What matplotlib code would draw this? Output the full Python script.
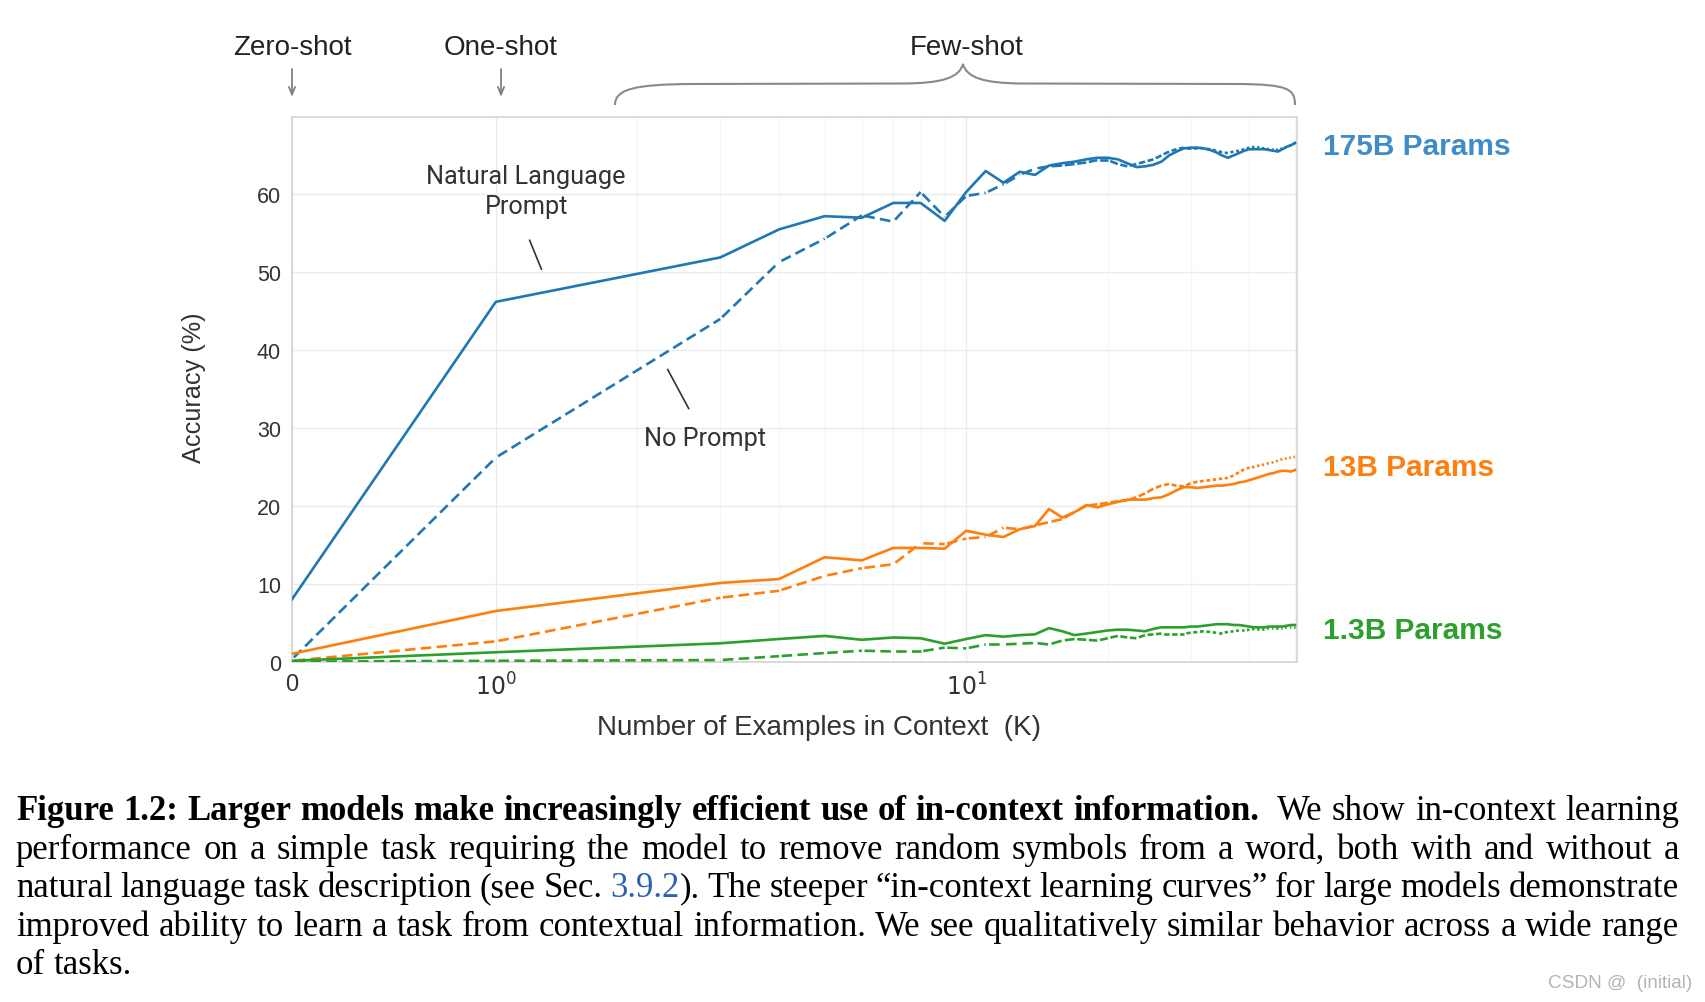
import numpy as np
import matplotlib
matplotlib.use("Agg")
import matplotlib.pyplot as plt
from matplotlib.collections import LineCollection
from matplotlib.path import Path
from matplotlib.patches import PathPatch
from matplotlib.ticker import FixedLocator

# number of in-context examples K
k_shots = [0, 1, 3, 4, 5, 6, 7, 8, 9, 10,
           11, 12, 13, 14, 15, 16, 17, 18, 19, 20,
           21, 22, 23, 24, 25, 26, 27, 28, 29, 30,
           31, 32, 33, 34, 35, 36, 37, 38, 39, 40,
           41, 42, 43, 44, 45, 46, 47, 48, 49, 50]

# accuracy (%)
acc_175b_prompt = [8.0, 46.2, 51.9, 55.5, 57.2, 57.0, 58.9, 58.9, 56.6, 60.3,
                   63.0, 61.5, 62.9, 62.5, 63.7, 64.0, 64.2, 64.5, 64.7, 64.7,
                   64.5, 64.0, 63.5, 63.6, 63.8, 64.2, 65.0, 65.5, 65.9, 66.0,
                   66.0, 65.9, 65.7, 65.4, 65.0, 64.7, 65.0, 65.3, 65.6, 65.8,
                   65.8, 65.8, 65.8, 65.7, 65.6, 65.5, 65.8, 66.1, 66.3, 66.6]
acc_175b_noprompt = [0.3, 26.2, 44.0, 51.3, 54.3, 57.3, 56.5, 60.3, 57.1, 59.8,
                     60.2, 61.3, 62.5, 63.3, 63.6, 63.7, 63.9, 64.1, 64.4, 64.4,
                     63.9, 63.6, 63.9, 64.2, 64.5, 65.0, 65.5, 65.8, 66.0, 66.0,
                     66.0, 65.9, 65.8, 65.6, 65.4, 65.3, 65.5, 65.6, 65.8, 66.0,
                     66.1, 66.0, 65.9, 65.8, 65.8, 65.7, 65.9, 66.1, 66.3, 66.6]
acc_13b_prompt = [1.0, 6.5, 10.1, 10.6, 13.4, 13.0, 14.6, 14.6, 14.5, 16.8,
                  16.3, 16.0, 17.0, 17.4, 19.6, 18.5, 19.2, 20.1, 19.8, 20.2,
                  20.5, 20.8, 20.8, 20.8, 21.0, 21.1, 21.5, 22.0, 22.4, 22.4,
                  22.3, 22.4, 22.5, 22.6, 22.6, 22.7, 22.8, 23.0, 23.1, 23.3,
                  23.5, 23.7, 23.9, 24.1, 24.2, 24.4, 24.5, 24.5, 24.4, 24.6]
acc_13b_noprompt = [0.1, 2.6, 8.2, 9.1, 11.0, 12.0, 12.5, 15.2, 15.1, 15.8,
                    16.0, 17.2, 17.0, 17.5, 17.9, 18.3, 19.2, 20.0, 20.2, 20.4,
                    20.6, 20.7, 21.1, 21.6, 22.2, 22.6, 22.8, 22.6, 22.5, 22.9,
                    23.1, 23.2, 23.3, 23.4, 23.5, 23.6, 23.9, 24.3, 24.7, 24.9,
                    25.0, 25.2, 25.3, 25.5, 25.6, 25.8, 26.0, 26.1, 26.2, 26.3]
acc_1b_prompt = [0.1, 1.2, 2.35, 2.9, 3.3, 2.8, 3.1, 3.0, 2.3, 2.9,
                 3.4, 3.2, 3.4, 3.5, 4.3, 3.9, 3.4, 3.6, 3.8, 4.0,
                 4.1, 4.1, 4.0, 3.9, 4.2, 4.4, 4.4, 4.4, 4.4, 4.5,
                 4.5, 4.6, 4.7, 4.8, 4.8, 4.8, 4.7, 4.7, 4.6, 4.5,
                 4.4, 4.4, 4.4, 4.5, 4.5, 4.5, 4.5, 4.6, 4.7, 4.7]
acc_1b_noprompt = [0.0, 0.1, 0.2, 0.7, 1.1, 1.4, 1.3, 1.3, 1.8, 1.7,
                   2.2, 2.2, 2.3, 2.4, 2.2, 2.7, 2.9, 2.8, 2.7, 3.0,
                   3.3, 3.1, 3.0, 3.4, 3.5, 3.6, 3.6, 3.6, 3.6, 3.7,
                   3.8, 3.9, 3.8, 3.7, 3.7, 3.8, 3.9, 4.0, 4.0, 4.1,
                   4.2, 4.2, 4.2, 4.3, 4.3, 4.3, 4.3, 4.4, 4.4, 4.4]

model_names = ["175B Params", "13B Params", "1.3B Params"]
line_colors = ["#1f77b4", "#ff7f0e", "#2ca02c"]
label_colors = ["#3f8cca", "#ff7f0e", "#2ca02c"]
y_ticks = [0, 10, 20, 30, 40, 50, 60]
x_ticks = [0, 1, 10]
x_ticklabels = ["0", r"$10^{0}$", r"$10^{1}$"]

W, H = 1706, 1003
def fx(px):
    return px / W
def fy(py):
    return 1 - py / H

SANS = "Liberation Sans"
TXT = "#333333"

fig = plt.figure(figsize=(W / 100, H / 100), dpi=100)
ax = fig.add_axes([fx(292), fy(662.6), (1297 - 292) / W, (662.6 - 117.5) / H])

ax.set_xscale("symlog", linthresh=1, linscale=0.39)
ax.set_xlim(0, 50.5)
ax.set_ylim(0, 70)

series = [(acc_175b_prompt, acc_175b_noprompt),
          (acc_13b_prompt, acc_13b_noprompt),
          (acc_1b_prompt, acc_1b_noprompt)]

lw = 1.9
for (prompt, noprompt), col, lcol, name in zip(series, line_colors, label_colors, model_names):
    # no prompt: dashed, pattern restarts on every segment (short ones look dotted)
    pts = np.column_stack([k_shots, noprompt])
    segs = np.stack([pts[:-1], pts[1:]], axis=1)
    lc = LineCollection(segs, colors=col, linewidths=lw, linestyles=[(5, (4, 2))],
                        capstyle="butt", zorder=3)
    ax.add_collection(lc, autolim=False)
    ax.plot(k_shots, prompt, color=col, lw=lw, zorder=4)
    y_end = (prompt[-1] + noprompt[-1]) / 2
    ax.annotate(name, xy=(1, y_end), xycoords=("axes fraction", "data"),
                xytext=(19, -2.5), textcoords="offset points", va="center", ha="left",
                fontsize=21.5, fontweight="bold", family=SANS, color=lcol,
                annotation_clip=False)

# axes styling
ax.xaxis.set_major_locator(FixedLocator(x_ticks))
ax.set_xticklabels(x_ticklabels)
ax.xaxis.set_minor_locator(FixedLocator([2, 3, 4, 5, 6, 7, 8, 9, 20, 30, 40, 50]))
ax.set_yticks(y_ticks)
ax.grid(True, which="major", color="#ebebeb", lw=1.0, zorder=0)
ax.grid(True, which="minor", axis="x", color="#f4f4f4", lw=0.8, zorder=0)
ax.set_axisbelow(True)
ax.tick_params(which="both", length=0, labelcolor=TXT)
ax.tick_params(axis="y", pad=8, labelsize=15.5)
ax.tick_params(axis="x", pad=8, labelsize=17)
for lab in ax.get_xticklabels() + ax.get_yticklabels():
    lab.set_family(SANS)
for sp in ax.spines.values():
    sp.set_color("#d4d4d4")
    sp.set_linewidth(1.2)

fig.text(fx(819), fy(728), "Number of Examples in Context  (K)", ha="center", va="center",
         fontsize=20, family=SANS, color=TXT)
fig.text(fx(194), fy(388), "Accuracy (%)", ha="center", va="center", rotation=90,
         fontsize=18.2, family=SANS, color=TXT)

# line annotations
ax.text(1.16, 60.4, "Natural Language\nPrompt", ha="center", va="center", fontsize=18.2,
        family="Roboto", color=TXT, linespacing=1.3)
ax.plot([1.18, 1.25], [54.1, 50.4], color=TXT, lw=1.2)
ax.text(2.79, 28.7, "No Prompt", ha="center", va="center", fontsize=18.2,
        family="Roboto", color=TXT)
ax.plot([2.32, 2.57], [37.5, 32.5], color=TXT, lw=1.2)

# zero / one / few-shot markers above the plot
for px, name in [(292, "Zero-shot"), (501, "One-shot")]:
    ax.annotate("", xy=(fx(px), fy(98)), xytext=(fx(px), fy(70)), xycoords="figure fraction",
                arrowprops=dict(arrowstyle="->,head_length=0.55,head_width=0.22",
                                color="#808080", lw=1.3, shrinkA=0, shrinkB=0),
                annotation_clip=False)
    fig.text(fx(px), fy(55), name, ha="center", va="baseline", fontsize=20, family=SANS,
             color="#222222")
fig.text(fx(967), fy(55), "Few-shot", ha="center", va="baseline", fontsize=20, family=SANS,
         color="#222222")

brace = [(615, 106), (615, 90), (635, 85.5), (690, 85), (905, 84.5), (942, 84), (959, 79), (963, 65),
         (967, 79), (984, 84), (1021, 84.5), (1240, 85), (1288, 85.5), (1295, 90), (1295, 106)]
codes = [Path.MOVETO, Path.CURVE4, Path.CURVE4, Path.CURVE4, Path.LINETO,
         Path.CURVE4, Path.CURVE4, Path.CURVE4, Path.CURVE4, Path.CURVE4, Path.CURVE4,
         Path.LINETO, Path.CURVE4, Path.CURVE4, Path.CURVE4]
brace_path = Path([(fx(x), fy(y)) for x, y in brace], codes)
fig.add_artist(PathPatch(brace_path, transform=fig.transFigure, fc="none", ec="#8a8a8a", lw=1.5))

# caption, justified word by word
caption = [
    [("Figure 1.2: Larger models make increasingly efficient use of in-context information.", "bold"),
     ("  We show in-context learning", "normal")],
    [("performance on a simple task requiring the model to remove random symbols from a word, both with and without a", "normal")],
    [("natural language task description (see Sec. ", "normal"), ("3.9.2", "link"),
     ("). The steeper \u201cin-context learning curves\u201d for large models demonstrate", "normal")],
    [("improved ability to learn a task from contextual information. We see qualitatively similar behavior across a wide range", "normal")],
    [("of tasks.", "normal")],
]
cap_size = 25
left, right = 16, 1679
baselines = [820, 858.6, 897.2, 935.8, 974.4]
renderer = fig.canvas.get_renderer()
for li, (chunks, base) in enumerate(zip(caption, baselines)):
    words = []
    gap = 0
    for text, style in chunks:
        for i, w in enumerate(text.split(" ")):
            if i > 0:
                gap += 1
            if w:
                t = fig.text(0, fy(base), w, ha="left", va="baseline", fontsize=cap_size,
                             family="Liberation Serif",
                             fontweight="bold" if style == "bold" else "normal",
                             color="#2a62b0" if style == "link" else "black")
                words.append((t, gap if words else 0))
                gap = 0
    widths = [t.get_window_extent(renderer).width for t, _ in words]
    n_gaps = sum(g for _, g in words)
    space = 0.25 * cap_size * 100 / 72
    if li == len(caption) - 1:
        unit = space
    else:
        unit = max((right - left - sum(widths)) / n_gaps, 0.5 * space)
    x = left
    for (t, g), wd in zip(words, widths):
        x += g * unit
        t.set_x(fx(x))
        x += wd

fig.text(fx(1692), fy(984), "CSDN @  (initial)", ha="right", va="center", fontsize=13.7,
         family=SANS, color="#b4b4b4")

fig.savefig("out.png", dpi=100)
